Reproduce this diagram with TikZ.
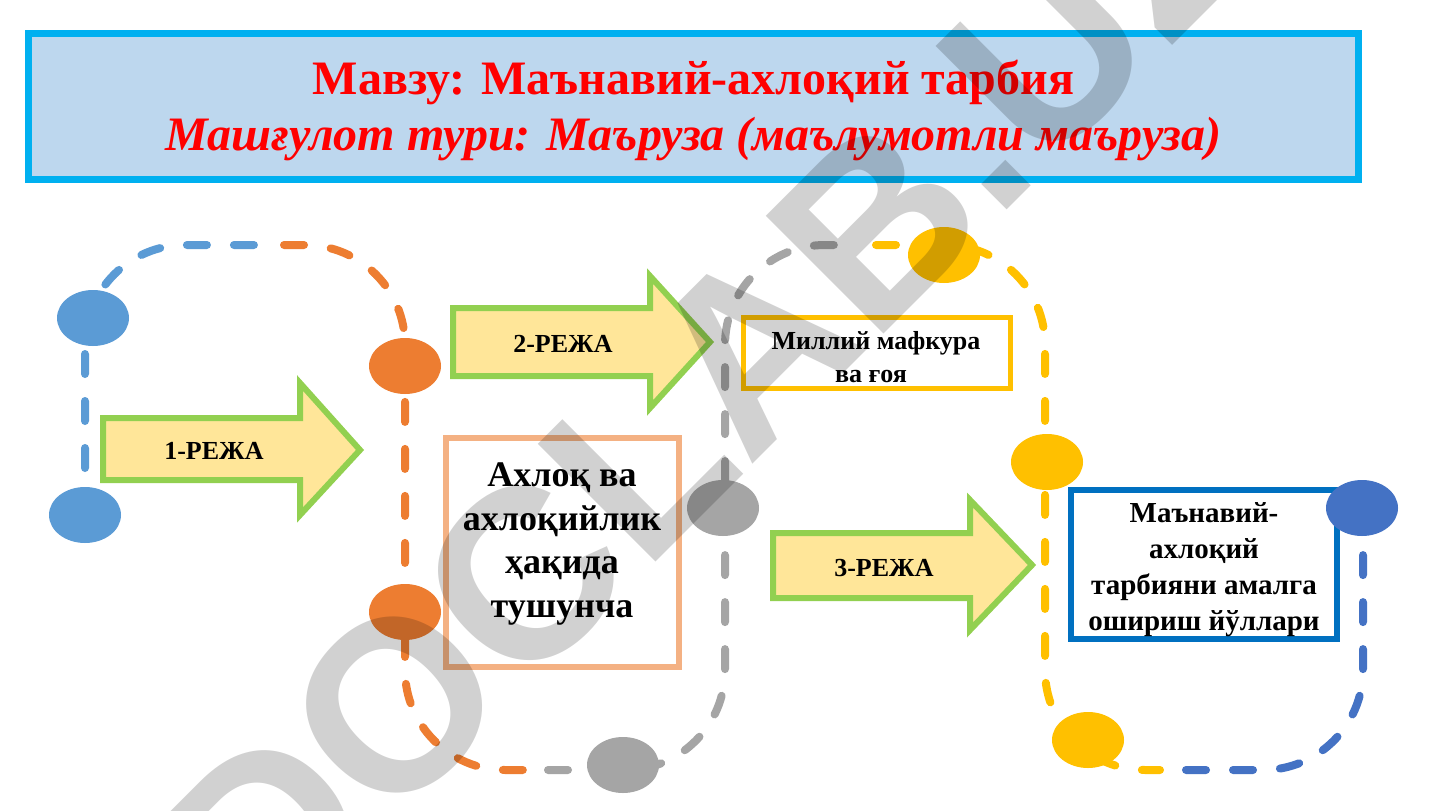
\documentclass[tikz,border=0pt]{standalone}
\usepackage{fontspec}
\setmainfont{Liberation Serif}
\newfontfamily\wmfont{Liberation Sans}
\usetikzlibrary{shapes.geometric}
\definecolor{cBlueA}{HTML}{5B9BD5}
\definecolor{cOrange}{HTML}{ED7D31}
\definecolor{cGray}{HTML}{A5A5A5}
\definecolor{cYellow}{HTML}{FFC000}
\definecolor{cBlueB}{HTML}{4472C4}
\definecolor{cArrowFill}{HTML}{FFE699}
\definecolor{cArrowLine}{HTML}{92D050}
\definecolor{cOrangeBox}{HTML}{F4B183}
\definecolor{cBlueBox}{HTML}{0070C0}
\definecolor{cTitleFill}{HTML}{BDD7EE}
\definecolor{cTitleLine}{HTML}{00B0F0}
\definecolor{cRed}{HTML}{FF0000}
\tikzset{
  trail/.style={line width=8bp, line cap=round, dash pattern=on 20bp off 27bp},
  dot/.style={ellipse, minimum width=72bp, minimum height=56bp, inner sep=0pt},
  blockarrow/.style={fill=cArrowFill, draw=cArrowLine, line width=6bp, line join=miter},
  planlabel/.style={font=\bfseries\fontsize{26bp}{30bp}\selectfont},
  infobox/.style={fill=white, inner sep=0pt, line width=6bp},
}
\begin{document}
\begin{tikzpicture}[x=1bp, y=-1bp]
\useasboundingbox[fill=white] (0,0) rectangle (1440,810);
% title
\node[draw=cTitleLine, fill=cTitleFill, line width=7bp, minimum width=1330bp, minimum height=146bp, inner sep=0pt] (title) at (693.5,106.5) {};
\node[text=cRed, font=\bfseries\fontsize{48bp}{56bp}\selectfont, align=center] (titletext) at (693.5,110)
  {Мавзу: Маънавий-ахлоқий тарбия\\ \itshape Машғулот тури: Маъруза (маълумотли маъруза)};
% trail
\draw[trail, cBlueA] (85,515) -- (85,345) arc[start angle=180, end angle=270, radius=100] -- (268,245);
\draw[trail, cOrange] (284,245) -- (305,245) arc[start angle=270, end angle=360, radius=100] -- (405,670) arc[start angle=180, end angle=90, radius=100] -- (528,770);
\draw[trail, cGray] (548,770) -- (625,770) arc[start angle=90, end angle=0, radius=100] -- (725,345) arc[start angle=180, end angle=270, radius=100] -- (858,245);
\draw[trail, cYellow] (876,245) -- (945,245) arc[start angle=270, end angle=360, radius=100] -- (1045,670) arc[start angle=180, end angle=90, radius=100] -- (1160,770);
\draw[trail, cBlueB] (1186,770) -- (1263,770) arc[start angle=90, end angle=0, radius=100] -- (1363,508);
% arrows
\draw[blockarrow] (103,418) -- (300,418) -- (300,383) -- (360,450) -- (300,515) -- (300,480) -- (103,480) -- cycle;
\draw[blockarrow] (453,308) -- (650,308) -- (650,276) -- (710,342) -- (650,408) -- (650,376) -- (453,376) -- cycle;
\draw[blockarrow] (773,533) -- (970,533) -- (970,500) -- (1032,565) -- (970,630) -- (970,598) -- (773,598) -- cycle;
\node[planlabel] (plan1) at (214,451) {1-РЕЖА};
\node[planlabel] (plan2) at (563,344) {2-РЕЖА};
\node[planlabel] (plan3) at (884,568) {3-РЕЖА};
% boxes
\node[infobox, draw=cOrangeBox, minimum width=233bp, minimum height=229bp] (boxA) at (562.5,552.5) {};
\node[font=\bfseries\fontsize{36bp}{43.5bp}\selectfont, align=center] (boxAtext) at (562,544)
  {Ахлоқ ва\\ахлоқийлик\\ҳақида\\тушунча};
\node[infobox, draw=cYellow, line width=5bp, minimum width=267bp, minimum height=71bp] (boxB) at (877,353) {};
\node[font=\bfseries\fontsize{26bp}{33bp}\selectfont, align=center] (boxBtext) at (876,357)
  {Миллий мафкура\\ва ғоя\hspace*{10bp}};
\node[infobox, draw=cBlueBox, minimum width=266bp, minimum height=149bp] (boxC) at (1204,564.5) {};
\node[font=\bfseries\fontsize{29bp}{36bp}\selectfont, align=center] (boxCtext) at (1204,570)
  {Маънавий-\\ахлоқий\\тарбияни амалга\\ошириш йўллари};
% dots
\node[dot, fill=cBlueA] (d1) at (93,318) {};
\node[dot, fill=cBlueA] (d2) at (85,515) {};
\node[dot, fill=cOrange] (d3) at (405,366) {};
\node[dot, fill=cOrange] (d4) at (405,612) {};
\node[dot, fill=cGray] (d5) at (723,508) {};
\node[dot, fill=cGray] (d6) at (623,765) {};
\node[dot, fill=cYellow] (d7) at (944,255) {};
\node[dot, fill=cYellow] (d8) at (1047,462) {};
\node[dot, fill=cYellow] (d9) at (1088,740) {};
\node[dot, fill=cBlueB] (d10) at (1362,508) {};
% watermark
\node[text=black, text opacity=0.18, rotate=45, font=\wmfont\bfseries\fontsize{242bp}{242bp}\selectfont] (wm) at (709,391) {DOCLAB.UZ};
\end{tikzpicture}
\end{document}
